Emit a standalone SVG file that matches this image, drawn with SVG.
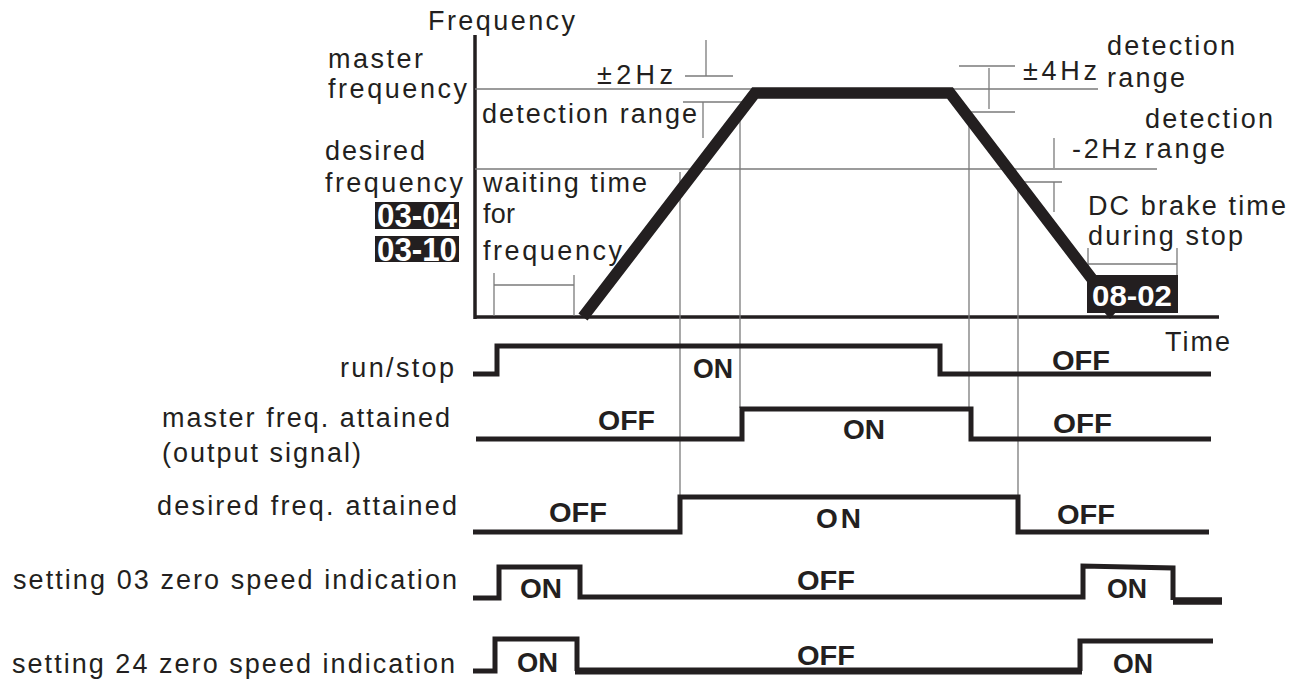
<svg xmlns="http://www.w3.org/2000/svg" width="1296" height="680" viewBox="0 0 1296 680">
<style>
text{font-family:"Liberation Sans",Arial,sans-serif;fill:#231f20}
.t{font-size:27px}
.b{font-size:28px;font-weight:bold}
.p{font-family:"Liberation Sans Narrow","Liberation Sans",Arial,sans-serif;font-weight:bold;fill:#ffffff;text-anchor:middle}
.thin{stroke:#7a7a7a;stroke-width:1.3;fill:none}
.axis{stroke:#231f20;stroke-width:3.5;fill:none}
.sig{stroke:#231f20;stroke-width:5;fill:none;stroke-linejoin:miter}
.ramp{stroke:#231f20;stroke-width:11.5;fill:none;stroke-linejoin:miter}
.box{fill:#231f20}
</style>
<rect width="1296" height="680" fill="#ffffff"/>

<g id="chart-axes">
<line class="axis" x1="475" y1="35" x2="475" y2="319"/>
<line class="axis" x1="475" y1="317" x2="1219" y2="317"/>
<text class="t" x="428" y="30" textLength="147" lengthAdjust="spacing">Frequency</text>
<text class="t" x="1165" y="351" textLength="65" lengthAdjust="spacing">Time</text>
</g>

<g id="connectors">
<line class="thin" x1="475" y1="89" x2="1098" y2="89"/>
<line class="thin" x1="475" y1="169" x2="1157" y2="169"/>
<line class="thin" x1="706" y1="40" x2="706" y2="76"/>
<line class="thin" x1="685" y1="76" x2="733" y2="76"/>
<line class="thin" x1="683" y1="102" x2="748" y2="102"/>
<line class="thin" x1="703" y1="102" x2="703" y2="138"/>
<line class="thin" x1="959" y1="66" x2="1015" y2="66"/>
<line class="thin" x1="989" y1="68" x2="989" y2="109"/>
<line class="thin" x1="967" y1="112" x2="1015" y2="112"/>
<line class="thin" x1="1054" y1="138" x2="1054" y2="168"/>
<line class="thin" x1="1020" y1="182" x2="1062" y2="182"/>
<line class="thin" x1="1054" y1="182" x2="1054" y2="212"/>
<line class="thin" x1="1088" y1="248" x2="1088" y2="275"/>
<line class="thin" x1="1177" y1="248" x2="1177" y2="275"/>
<line class="thin" x1="1088" y1="264" x2="1177" y2="264"/>
<line class="thin" x1="494" y1="273" x2="494" y2="316"/>
<line class="thin" x1="574" y1="275" x2="574" y2="316"/>
<line class="thin" x1="494" y1="285" x2="574" y2="285"/>
<line class="thin" x1="680" y1="172" x2="680" y2="496"/>
<line class="thin" x1="740" y1="112" x2="740" y2="408"/>
<line class="thin" x1="969" y1="112" x2="969" y2="408"/>
<line class="thin" x1="1018" y1="182" x2="1018" y2="496"/>
</g>

<g id="frequency-profile">
<polyline class="ramp" points="583,317 755,93 950,93 1092,279"/>
</g>

<g id="label-master-frequency">
<text class="t" x="328" y="68" textLength="95" lengthAdjust="spacing">master</text>
<text class="t" x="328" y="98" textLength="139" lengthAdjust="spacing">frequency</text>
</g>
<g id="label-desired-frequency">
<text class="t" x="325" y="160" textLength="100" lengthAdjust="spacing">desired</text>
<text class="t" x="325" y="192" textLength="138" lengthAdjust="spacing">frequency</text>
</g>
<g id="param-03-04">
<rect class="box" x="375" y="202" width="84" height="27"/>
<text class="p" x="417" y="227" font-size="33" textLength="80" lengthAdjust="spacingAndGlyphs">03-04</text>
</g>
<g id="param-03-10">
<rect class="box" x="375" y="236" width="84" height="26"/>
<text class="p" x="417" y="261" font-size="33" textLength="80" lengthAdjust="spacingAndGlyphs">03-10</text>
</g>
<g id="label-2hz">
<text class="t" x="597" y="84" textLength="76" lengthAdjust="spacing">±2Hz</text>
<text class="t" x="482" y="123" textLength="215" lengthAdjust="spacing">detection range</text>
</g>
<g id="label-waiting">
<text class="t" x="483" y="192" textLength="164" lengthAdjust="spacing">waiting time</text>
<text class="t" x="483" y="223" textLength="32" lengthAdjust="spacing">for</text>
<text class="t" x="483" y="260" textLength="139" lengthAdjust="spacing">frequency</text>
</g>
<g id="label-4hz">
<text class="t" x="1023" y="80" textLength="74" lengthAdjust="spacing">±4Hz</text>
<text class="t" x="1107" y="55" textLength="128" lengthAdjust="spacing">detection</text>
<text class="t" x="1107" y="87" textLength="78" lengthAdjust="spacing">range</text>
</g>
<g id="label-minus2hz">
<text class="t" x="1145" y="128" textLength="128" lengthAdjust="spacing">detection</text>
<text class="t" x="1072" y="158" textLength="65" lengthAdjust="spacing">-2Hz</text>
<text class="t" x="1145" y="158" textLength="80" lengthAdjust="spacing">range</text>
</g>
<g id="label-dc-brake">
<text class="t" x="1088" y="215" textLength="198" lengthAdjust="spacing">DC brake time</text>
<text class="t" x="1088" y="245" textLength="155" lengthAdjust="spacing">during stop</text>
</g>
<g id="param-08-02">
<rect class="box" x="1087" y="275" width="91" height="38"/>
<polygon class="box" points="1104,312 1116,312 1110,319"/>
<text class="p" x="1132" y="306" font-size="29" textLength="80" lengthAdjust="spacingAndGlyphs">08-02</text>
</g>

<g id="signal-run-stop">
<text class="t" x="340" y="377" textLength="114" lengthAdjust="spacing">run/stop</text>
<polyline class="sig" points="473,374 497,374 497,346 940,346 940,374 1211,374"/>
<text class="b" x="693" y="378" textLength="40" lengthAdjust="spacingAndGlyphs">ON</text>
<text class="b" x="1052" y="370" textLength="58" lengthAdjust="spacingAndGlyphs">OFF</text>
</g>

<g id="signal-master-attained">
<text class="t" x="162" y="427" textLength="288" lengthAdjust="spacing">master freq. attained</text>
<text class="t" x="162" y="462" textLength="199" lengthAdjust="spacing">(output signal)</text>
<polyline class="sig" points="476,439 742,439 742,409 971,409 971,439 1211,439"/>
<text class="b" x="598" y="430" textLength="57" lengthAdjust="spacingAndGlyphs">OFF</text>
<text class="b" x="843" y="439" textLength="42" lengthAdjust="spacingAndGlyphs">ON</text>
<text class="b" x="1053" y="433" textLength="59" lengthAdjust="spacingAndGlyphs">OFF</text>
</g>

<g id="signal-desired-attained">
<text class="t" x="157" y="515" textLength="300" lengthAdjust="spacing">desired freq. attained</text>
<polyline class="sig" points="473,532 680,532 680,497 1018,497 1018,532 1209,532"/>
<text class="b" x="549" y="522" textLength="58" lengthAdjust="spacingAndGlyphs">OFF</text>
<text class="b" x="816" y="528" textLength="45" lengthAdjust="spacing">ON</text>
<text class="b" x="1057" y="524" textLength="58" lengthAdjust="spacingAndGlyphs">OFF</text>
</g>

<g id="signal-setting-03">
<text class="t" x="13" y="589" textLength="444" lengthAdjust="spacing">setting 03 zero speed indication</text>
<polyline class="sig" points="473,598 499,598 499,567 580,567 580,597 1083,597 1083,566 1173,568 1173,600"/>
<line x1="1173" y1="601" x2="1222" y2="601" stroke="#231f20" stroke-width="7.5"/>
<text class="b" x="520" y="598" textLength="42" lengthAdjust="spacingAndGlyphs">ON</text>
<text class="b" x="797" y="590" textLength="58" lengthAdjust="spacingAndGlyphs">OFF</text>
<text class="b" x="1107" y="598" textLength="40" lengthAdjust="spacingAndGlyphs">ON</text>
</g>

<g id="signal-setting-24">
<text class="t" x="12" y="673" textLength="443" lengthAdjust="spacing">setting 24 zero speed indication</text>
<polyline class="sig" points="473,671 495,671 495,639 577,639 577,671"/>
<line x1="575" y1="671" x2="1082" y2="671" stroke="#231f20" stroke-width="7"/>
<polyline class="sig" points="1080,671 1080,641 1213,641"/>
<text class="b" x="517" y="672" textLength="41" lengthAdjust="spacingAndGlyphs">ON</text>
<text class="b" x="797" y="665" textLength="58" lengthAdjust="spacingAndGlyphs">OFF</text>
<text class="b" x="1113" y="673" textLength="40" lengthAdjust="spacingAndGlyphs">ON</text>
</g>
</svg>
